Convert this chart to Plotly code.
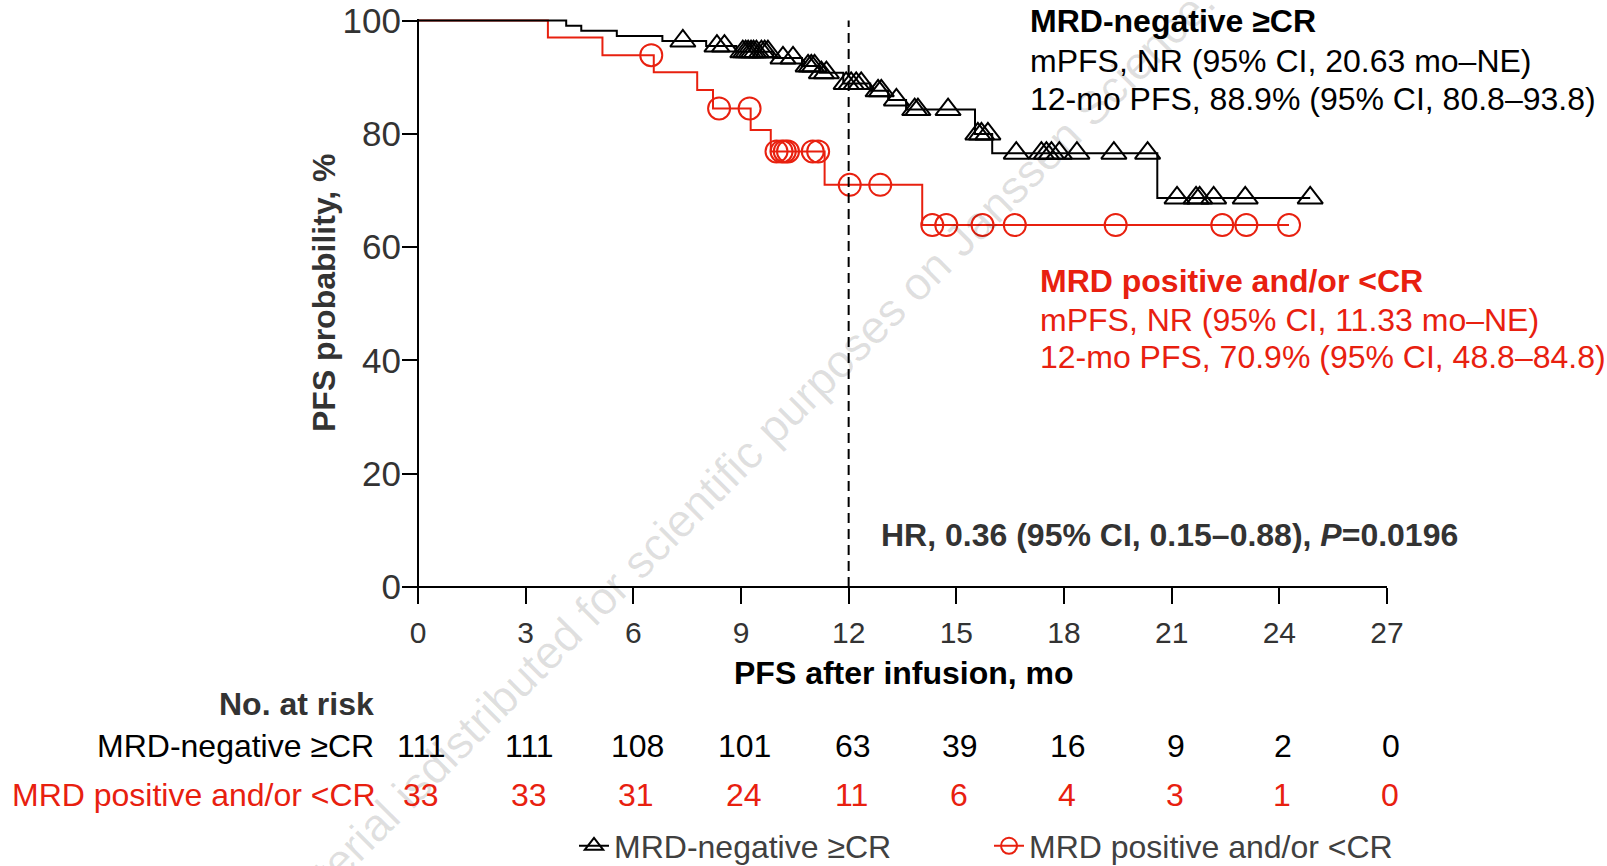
import plotly.graph_objects as go

W, H = 1607, 866

# ---------------- data ----------------
x_ticks = [0, 3, 6, 9, 12, 15, 18, 21, 24, 27]
y_ticks = [0, 20, 40, 60, 80, 100]

# MRD-negative >=CR : event times (mo) and PFS (%) after each event
neg_event_t = [4.13, 4.55, 5.54, 6.81, 8.03, 8.87, 9.9, 10.7, 11.2, 11.85, 12.6, 13.1, 13.6, 15.52, 16.0, 20.6]
neg_event_s = [99.1, 98.2, 97.3, 96.4, 95.5, 94.5, 93.4, 92.0, 90.8, 88.9, 87.6, 86.0, 84.3, 80.0, 76.6, 68.7]
neg_censor_t = [7.38, 8.33, 8.54, 9.05, 9.13, 9.2, 9.28, 9.35, 9.43, 9.57, 9.66, 9.75, 10.17, 10.45,
                10.87, 10.96, 11.05, 11.24, 11.38, 11.93, 12.07, 12.21, 12.35, 12.82, 12.91, 13.33,
                13.84, 13.93, 14.77, 15.6, 15.7, 15.88, 16.67, 17.37, 17.51, 17.65, 17.87, 18.36,
                19.39, 20.33, 21.15, 21.68, 21.78, 22.17, 23.05, 24.86]

# MRD positive and/or <CR
pos_event_t = [3.62, 5.14, 6.57, 7.78, 8.22, 9.27, 9.83, 11.33, 14.05]
pos_event_s = [97.0, 93.9, 90.9, 87.75, 84.5, 80.7, 76.9, 71.0, 63.9]
pos_censor_t = [6.5, 8.39, 9.24, 9.99, 10.13, 10.22, 10.31, 11.0, 11.15, 12.03, 12.88, 14.33,
                14.72, 15.73, 16.63, 19.44, 22.41, 23.08, 24.27]

risk_times = [0, 3, 6, 9, 12, 15, 18, 21, 24, 27]
risk_neg = [111, 111, 108, 101, 63, 39, 16, 9, 2, 0]
risk_pos = [33, 33, 31, 24, 11, 6, 4, 3, 1, 0]

landmark_mo = 12

neg_name = "MRD-negative ≥CR"
pos_name = "MRD positive and/or <CR"

BLACK = "#000000"
RED = "#E8200F"
DARK = "#333333"
FONT = "Liberation Sans, Arial, sans-serif"
FS = 32


def surv_at(t, ev_t, ev_s):
    s = 100.0
    for et, es in zip(ev_t, ev_s):
        if et <= t:
            s = es
    return s


def curve(ev_t, ev_s, cens):
    xs = [0] + list(ev_t) + [max(cens)]
    ys = [100] + list(ev_s) + [ev_s[-1]]
    return xs, ys


def fx(px):
    return px / W


def fy(py):
    return 1 - py / H


fig = go.Figure()

for ev_t, ev_s, cens, color, sym, name, rank in [
    (pos_event_t, pos_event_s, pos_censor_t, RED, "circle-open", pos_name, 2),
    (neg_event_t, neg_event_s, neg_censor_t, BLACK, "triangle-up-open", neg_name, 1),
]:
    cx, cy = curve(ev_t, ev_s, cens)
    fig.add_trace(go.Scatter(x=cx, y=cy, mode="lines", line=dict(color=color, width=2, shape="hv"),
                             showlegend=False, hoverinfo="skip"))
    fig.add_trace(go.Scatter(x=cens, y=[surv_at(t, ev_t, ev_s) for t in cens], mode="markers",
                             marker=dict(symbol=sym, size=22, color=color, line=dict(color=color, width=2)),
                             cliponaxis=False, showlegend=False, hoverinfo="skip"))
    fig.add_trace(go.Scatter(x=[None], y=[None], mode="lines+markers", name=name, legendrank=rank,
                             line=dict(color=color, width=2),
                             marker=dict(symbol=sym, size=16, color=color, line=dict(color=color, width=2))))

# landmark dashed line
fig.add_shape(type="line", xref="x", yref="y", x0=landmark_mo, x1=landmark_mo, y0=0, y1=100,
              line=dict(color=BLACK, width=2, dash="10px,6px"))

ann = []


def text(x, y, t, color=BLACK, xanchor="left", size=FS, xref="paper", **kw):
    ann.append(dict(x=x, y=y, xref=xref, yref="paper", text=t, showarrow=False,
                    xanchor=xanchor, yanchor="middle", font=dict(size=size, color=color, family=FONT), **kw))


# watermark
text(fx(772), fy(428), "Material isdistributed for scientific purposes on Janssen Science.com",
     color="rgba(0,0,0,0.12)", xanchor="center", size=46, textangle=-45)

# group summaries
text(fx(1028), fy(21), "<b>" + neg_name + "</b>")
text(fx(1028), fy(61), "mPFS, NR (95% CI, 20.63 mo–NE)")
text(fx(1028), fy(99), "12-mo PFS, 88.9% (95% CI, 80.8–93.8)")
text(fx(1038), fy(281), "<b>" + pos_name + "</b>", color=RED)
text(fx(1038), fy(320), "mPFS, NR (95% CI, 11.33 mo–NE)", color=RED)
text(fx(1038), fy(357), "12-mo PFS, 70.9% (95% CI, 48.8–84.8)", color=RED)
text(fx(879), fy(535), "<b>HR, 0.36 (95% CI, 0.15–0.88), <i>P</i>=0.0196</b>", color=DARK)

# axis titles
text(fx(904), fy(673), "<b>PFS after infusion, mo</b>", color=BLACK, xanchor="center")
text(fx(324), fy(293), "<b>PFS probability, %</b>", color=DARK, xanchor="center", textangle=-90)

# risk table
text(fx(376), fy(704), "<b>No. at risk</b>", color=DARK, xanchor="right")
text(fx(376), fy(746), neg_name, color=BLACK, xanchor="right")
text(fx(378), fy(795), pos_name, color=RED, xanchor="right")
for t, n in zip(risk_times, risk_neg):
    text(t, fy(746), str(n), color=BLACK, xanchor="center", xref="x", xshift=4)
for t, n in zip(risk_times, risk_pos):
    text(t, fy(795), str(n), color=RED, xanchor="center", xref="x", xshift=3)

# axes geometry
x_left_px, x_right_px = 402.9, 1387
x0_px = 418
y0_px, y100_px = 587, 20.6
ppu_y = (y0_px - y100_px) / 100
y_lo, y_hi = -2.05, 100.3

fig.update_layout(
    width=W, height=H, autosize=False, margin=dict(l=0, r=0, t=0, b=0, pad=0, autoexpand=False),
    paper_bgcolor="white", plot_bgcolor="white",
    font=dict(family=FONT, size=FS, color=DARK),
    annotations=ann,
    showlegend=True,
    legend=dict(orientation="h", x=fx(574), y=fy(846), xanchor="left", yanchor="middle",
                entrywidth=370, entrywidthmode="pixels", font=dict(size=FS, color="#404040"),
                bgcolor="rgba(0,0,0,0)", traceorder="normal"),
    xaxis=dict(domain=[fx(x_left_px), fx(x_right_px)], range=[-0.42, 27], anchor="free", position=fy(y0_px),
               tickmode="array", tickvals=x_ticks, ticktext=[str(v) for v in x_ticks],
               ticks="outside", ticklen=16, tickwidth=2, tickcolor=BLACK, ticklabelstandoff=3,
               showline=True, linewidth=2, linecolor=BLACK, showgrid=False, zeroline=False,
               tickfont=dict(size=30, color=DARK)),
    yaxis=dict(domain=[fy(y0_px - y_lo * ppu_y), fy(y100_px - (y_hi - 100) * ppu_y)], range=[y_lo, y_hi],
               anchor="free", position=fx(x0_px),
               tickmode="array", tickvals=y_ticks, ticktext=[str(v) for v in y_ticks],
               ticks="outside", ticklen=15, tickwidth=2, tickcolor=BLACK, ticklabelstandoff=-6,
               showline=True, linewidth=2, linecolor=BLACK, showgrid=False, zeroline=False,
               tickfont=dict(size=35, color=DARK)),
)

fig.write_html("out.html", config={"displayModeBar": False, "responsive": False},
               default_width="1607px", default_height="866px",
               post_script="document.body.style.margin='0px';document.body.style.overflow='hidden';")
